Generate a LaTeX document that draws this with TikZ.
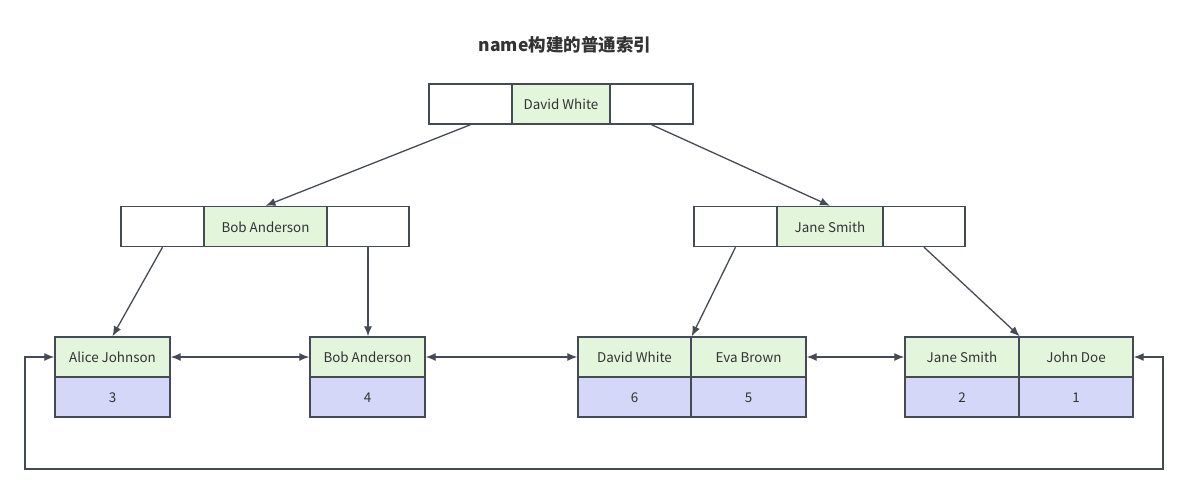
\documentclass[tikz,border=0pt]{standalone}
\usepackage{fontspec}
\setmainfont{Noto Sans CJK SC}
\usetikzlibrary{arrows.meta}
\definecolor{edge}{HTML}{454B54}
\definecolor{keyfill}{HTML}{E3F5DA}
\definecolor{valfill}{HTML}{D4D7F7}
\definecolor{txt}{HTML}{333333}
\tikzset{
  cell/.style={draw=edge, line width=1.4pt, inner sep=0pt, minimum height=40pt, text=txt, font=\fontsize{13.4}{16}\selectfont, text height=12.5pt, text depth=1pt},
  keycell/.style={cell, fill=keyfill},
  valcell/.style={cell, fill=valfill},
  ptrcell/.style={cell, fill=white},
  link/.style={draw=edge, line width=1.3pt, -{Latex[length=10pt,width=8pt]}},
  dlink/.style={draw=edge, line width=1.3pt, {Latex[length=10pt,width=8pt]}-{Latex[length=10pt,width=8pt]}}
}
\begin{document}
\begin{tikzpicture}[x=1pt,y=-1pt]
\useasboundingbox (0,0) rectangle (1188,494);
\node[font=\fontsize{17.5}{20}\selectfont\bfseries, text=txt] (title) at (565,45) {name构建的普通索引};
% root
\node[ptrcell, minimum width=83pt] (t1) at (470.5,104) {};
\node[keycell, minimum width=98pt] (t2) at (561,104) {David White};
\node[ptrcell, minimum width=83pt] (t3) at (651.5,104) {};
% left internal
\node[ptrcell, minimum width=83pt] (l1) at (162.5,226.5) {};
\node[keycell, minimum width=123pt] (l2) at (265.5,226.5) {Bob Anderson};
\node[ptrcell, minimum width=82pt] (l3) at (368,226.5) {};
% right internal
\node[ptrcell, minimum width=83pt] (r1) at (735.5,226.5) {};
\node[keycell, minimum width=106pt] (r2) at (830,226.5) {Jane Smith};
\node[ptrcell, minimum width=82pt] (r3) at (924,226.5) {};
% leaves
\node[keycell, minimum width=115pt] (a1) at (112.5,357) {Alice Johnson};
\node[valcell, minimum width=115pt] (a2) at (112.5,397) {3};
\node[keycell, minimum width=115pt] (b1) at (367.5,357) {Bob Anderson};
\node[valcell, minimum width=115pt] (b2) at (367.5,397) {4};
\node[keycell, minimum width=113pt] (c1) at (634.5,357) {David White};
\node[valcell, minimum width=113pt] (c2) at (634.5,397) {6};
\node[keycell, minimum width=115pt] (d1) at (748.5,357) {Eva Brown};
\node[valcell, minimum width=115pt] (d2) at (748.5,397) {5};
\node[keycell, minimum width=114pt] (e1) at (962,357) {Jane Smith};
\node[valcell, minimum width=114pt] (e2) at (962,397) {2};
\node[keycell, minimum width=114pt] (f1) at (1076,357) {John Doe};
\node[valcell, minimum width=114pt] (f2) at (1076,397) {1};
% tree links
\draw[link] (t1.south) -- (l2.north);
\draw[link] (t3.south) -- (r2.north);
\draw[link] (l1.south) -- (a1.north);
\draw[link] (l3.south) -- (l3.south |- b1.north);
\draw[link] (r1.south) -- (c1.north east);
\draw[link] (r3.south) -- (e1.north east);
% leaf chain
\draw[dlink] (a1.east) -- (b1.west);
\draw[dlink] (b1.east) -- (c1.west);
\draw[dlink] (d1.east) -- (e1.west);
\coordinate (lr) at (1163,357);
\coordinate (ll) at (25,357);
\draw[dlink] (f1.east) -- (lr) -- (1163,469) -- (25,469) -- (ll) -- (a1.west);
\end{tikzpicture}
\end{document}
